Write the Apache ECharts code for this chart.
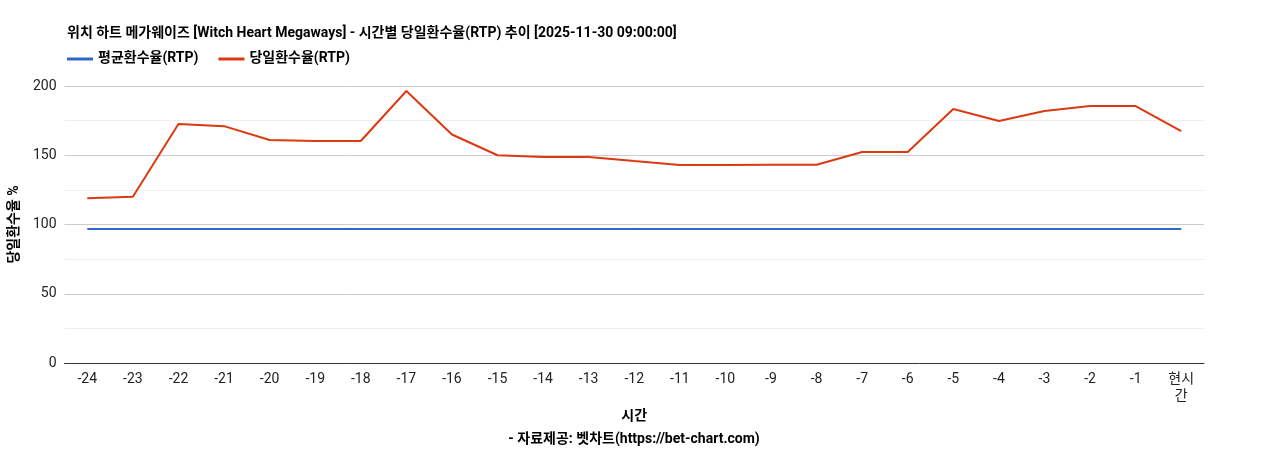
<!DOCTYPE html>
<html><head><meta charset="utf-8">
<script src="https://cdn.jsdelivr.net/npm/echarts@6/dist/echarts.min.js"></script>
<style>html,body{margin:0;padding:0;background:#fff}#c{width:1268px;height:450px}</style>
</head><body><div id="c"></div>
<script>
const categories = ['-24','-23','-22','-21','-20','-19','-18','-17','-16','-15','-14','-13','-12','-11','-10','-9','-8','-7','-6','-5','-4','-3','-2','-1','현시간'];
const avgRtp = [96.7,96.7,96.7,96.7,96.7,96.7,96.7,96.7,96.7,96.7,96.7,96.7,96.7,96.7,96.7,96.7,96.7,96.7,96.7,96.7,96.7,96.7,96.7,96.7,96.7];
const dayRtp = [119,120,172.6,171,161,160.3,160.3,196.4,165,150,148.7,148.7,145.8,143,143,143.2,143.2,152.3,152.3,183.4,174.7,182,185.5,185.5,167.5];
const F = 'Roboto,"Noto Sans CJK KR",sans-serif';
const chart = echarts.init(document.getElementById('c'));
chart.setOption({
  animation:false,
  textStyle:{fontFamily:F},
  title:[{text:'위치 하트 메가웨이즈 [Witch Heart Megaways] - 시간별 당일환수율(RTP) 추이 [2025-11-30 09:00:00]',left:62,top:22,textStyle:{fontSize:14,fontWeight:'bold',color:'#000',fontFamily:F}},
         {text:'- 자료제공: 벳차트(https://bet-chart.com)',left:'center',top:428,textStyle:{fontSize:14,fontWeight:'bold',color:'#000',fontFamily:F}}],
  legend:{left:62,top:47,itemWidth:26,itemHeight:3,icon:'rect',itemGap:20,textStyle:{fontSize:14,fontWeight:'bold',color:'#000',fontFamily:F},
    data:['평균환수율(RTP)','당일환수율(RTP)']},
  grid:{left:63,right:64,top:86,bottom:87},
  xAxis:{type:'category',data:categories,boundaryGap:true,
    name:'시간',nameLocation:'middle',nameGap:44,nameTextStyle:{fontSize:14,fontWeight:'bold',color:'#000'},
    axisLine:{lineStyle:{color:'#333'}},axisTick:{show:false},
    axisLabel:{color:'#222',fontSize:14,lineHeight:17,formatter:v=>v==='현시간'?'현시\n간':v}},
  yAxis:{type:'value',min:0,max:200,interval:50,
    name:'당일환수율 %',nameLocation:'middle',nameGap:21,nameTextStyle:{fontSize:14,fontWeight:'bold',color:'#000'},
    axisLabel:{color:'#222',fontSize:14},
    splitLine:{lineStyle:{color:'#ccc'}},
    minorTick:{show:false,splitNumber:2},minorSplitLine:{show:true,lineStyle:{color:'#eee'}}},
  series:[
    {name:'평균환수율(RTP)',type:'line',data:avgRtp,symbol:'none',lineStyle:{width:2,color:'#3366cc'},itemStyle:{color:'#3366cc'}},
    {name:'당일환수율(RTP)',type:'line',data:dayRtp,symbol:'none',lineStyle:{width:2,color:'#dc3912'},itemStyle:{color:'#dc3912'}}
  ]
});
</script></body></html>
